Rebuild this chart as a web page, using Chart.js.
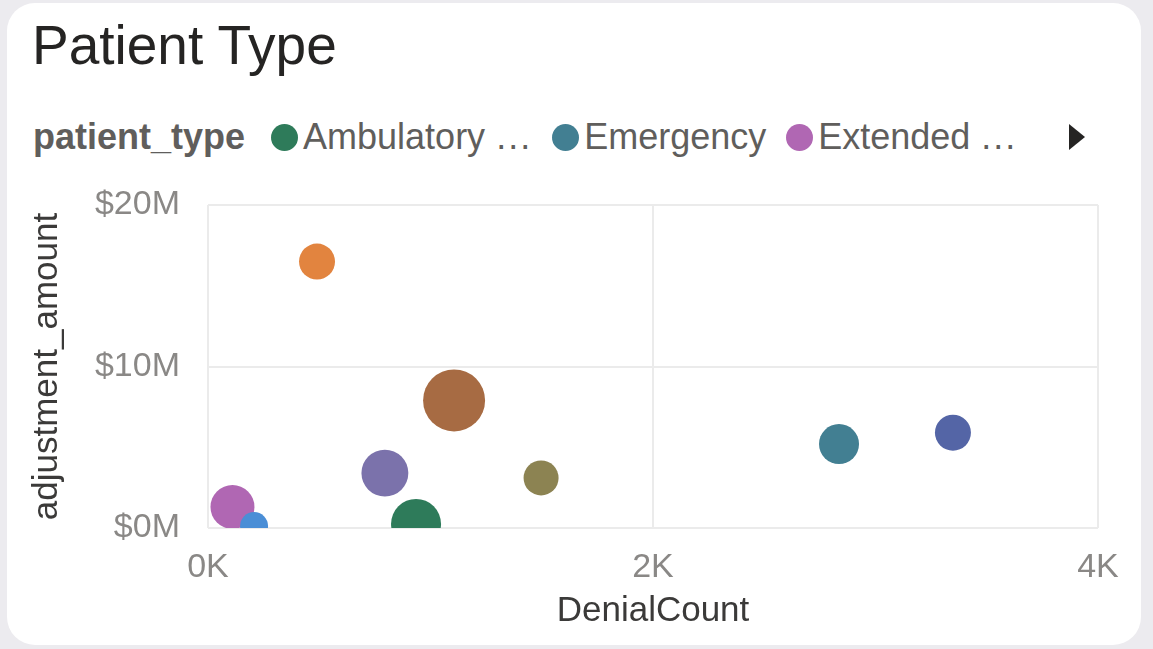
<!DOCTYPE html>
<html>
<head>
<meta charset="utf-8">
<script src="https://cdn.jsdelivr.net/npm/chart.js@4.4.0/dist/chart.umd.min.js"></script>
<style>
  html, body { margin: 0; padding: 0; }
  body {
    width: 1153px; height: 649px; overflow: hidden;
    background: #ecebef;
    font-family: "Liberation Sans", Arial, sans-serif;
    position: relative;
  }
  .card {
    position: absolute; left: 7px; top: 3px; width: 1134px; height: 642px;
    background: #fff; border-radius: 28px;
  }
  .title {
    position: absolute; left: 32px; top: 13px;
    font-size: 55px; color: #252423; white-space: nowrap;
  }
  .legend {
    position: absolute; left: 33px; top: 116px; height: 42px;
    display: flex; align-items: center; white-space: nowrap;
    font-size: 36px; color: #605e5c;
  }
  .legend .head { font-weight: bold; margin-right: 26px; }
  .legend .item { display: flex; align-items: center; margin-right: 20px; }
  .legend .dot { width: 27px; height: 27px; border-radius: 50%; margin-right: 5px; }
  .legend .cut { letter-spacing: 2px; margin-left: 11px; }
  .more {
    position: absolute; left: 1069px; top: 124px; width: 0; height: 0;
    border-left: 16px solid #252423;
    border-top: 13px solid transparent; border-bottom: 13px solid transparent;
  }
  #wrap { position: absolute; left: 0; top: 0; width: 1153px; height: 649px; }
</style>
</head>
<body>
<div class="card"></div>
<div class="title">Patient Type</div>
<div class="legend" id="legend"></div>
<div class="more"></div>
<div id="wrap"><canvas id="chart"></canvas></div>
<script>
const patientTypes = ['Ambulatory Surgery', 'Emergency', 'Extended Care', 'Inpatient', 'Observation', 'Outpatient', 'Psychiatric', 'Rehabilitation', 'Newborn'];
const denialCounts = [935, 2836, 110, 490, 1106, 795, 1497, 3348, 207];
const adjustmentAmounts = [250000, 5200000, 1300000, 16500000, 7900000, 3400000, 3100000, 5900000, 120000];
const claimVolumes = [62500, 40000, 48400, 32400, 96100, 55000, 30600, 32400, 19600];
const typeColors = ['#2e7b5a', '#427f92', '#b067b3', '#e2843f', '#a76b43', '#7b72ab', '#8c8352', '#5465a6', '#4a8ed6'];

const xTicks = [0, 2000, 4000];
const yTicks = [0, 10000000, 20000000];
const legendCount = 3;

// legend row: only the first few types fit, long names get cut
const legend = document.getElementById('legend');
legend.innerHTML = '<span class="head">patient_type</span>';
patientTypes.slice(0, legendCount).forEach((name, i) => {
   const item = document.createElement('span');
   item.className = 'item';
   const dot = document.createElement('span');
   dot.className = 'dot';
   dot.style.background = typeColors[i];
   const label = document.createElement('span');
   label.textContent = name.length > 10 ? name.split(' ')[0] : name;
   item.appendChild(dot);
   item.appendChild(label);
   if (name.length > 10) {
      const cut = document.createElement('span');
      cut.className = 'cut';
      cut.textContent = '...';
      item.appendChild(cut);
   }
   legend.appendChild(item);
});

// later types are painted over earlier ones
const datasets = patientTypes.map((name, i) => ({
   label: name,
   data: [{ x: denialCounts[i], y: adjustmentAmounts[i], v: claimVolumes[i] }],
   backgroundColor: typeColors[i],
   borderWidth: 0,
   clip: 0,
   order: -i,
   radius: ctx => Math.sqrt(ctx.raw.v) / 10
}));

const tickFont = { family: '"Liberation Sans", Arial, sans-serif', size: 34 };
const axisTitleFont = { family: '"Liberation Sans", Arial, sans-serif', size: 35 };

new Chart(document.getElementById('chart'), {
   type: 'bubble',
   data: { datasets: datasets },
   options: {
      responsive: true,
      maintainAspectRatio: false,
      animation: false,
      layout: { padding: { left: 22, right: 55, top: 205, bottom: 13 } },
      plugins: {
         legend: { display: false },
         tooltip: { enabled: false }
      },
      scales: {
         x: {
            type: 'linear',
            min: 0,
            max: 4000,
            afterBuildTicks: axis => { axis.ticks = xTicks.map(v => ({ value: v })); },
            afterFit: axis => { axis.height = 108; },
            ticks: {
               padding: 19,
               color: '#8a8886',
               font: tickFont,
               callback: v => (v / 1000) + 'K'
            },
            grid: { color: '#ebebeb', lineWidth: 2, drawTicks: false },
            border: { display: false },
            title: { display: true, text: 'DenialCount', color: '#3b3a39', font: axisTitleFont }
         },
         y: {
            type: 'linear',
            min: 0,
            max: 20000000,
            afterBuildTicks: axis => { axis.ticks = yTicks.map(v => ({ value: v })); },
            afterFit: axis => { axis.width = 186; },
            ticks: {
               padding: 28,
               color: '#8a8886',
               font: tickFont,
               callback: v => '$' + (v / 1000000) + 'M'
            },
            grid: { color: '#ebebeb', lineWidth: 2, drawTicks: false },
            border: { display: false },
            title: { display: true, text: 'adjustment_amount', color: '#3b3a39', font: axisTitleFont }
         }
      }
   }
});
</script>
</body>
</html>
